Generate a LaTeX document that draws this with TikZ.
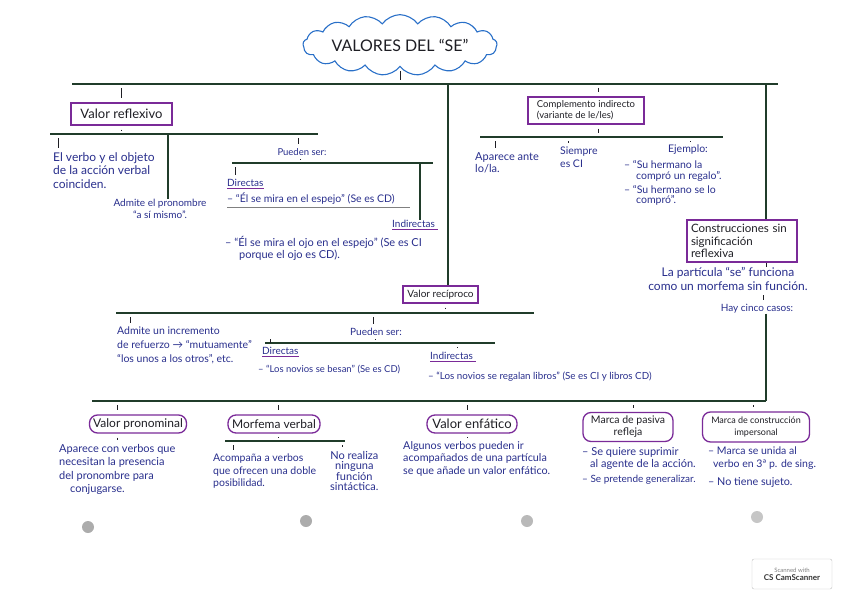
\documentclass[tikz,border=0pt]{standalone}
\usepackage{fontspec}
\setmainfont{Lato}
\usetikzlibrary{shapes.symbols}
\definecolor{tinta}{RGB}{40,46,140}
\definecolor{lapiz}{RGB}{30,30,36}
\definecolor{verde}{RGB}{32,60,42}
\definecolor{morado}{RGB}{122,42,152}
\definecolor{nube}{RGB}{42,112,200}
\newcommand{\tam}[2]{\fontsize{#1}{#2}\selectfont}
\begin{document}
\begin{tikzpicture}[x=1pt,y=-1pt,
	caja/.style={draw=morado, line width=1.2pt, text=lapiz, inner sep=2pt, align=left},
	ovalo/.style={draw=morado, line width=1.3pt, rounded corners=8pt, text=lapiz, inner sep=1.5pt, align=center},
	texto/.style={text=tinta, anchor=north west, align=left, inner sep=0pt},
	barra/.style={draw=verde, line width=1.3pt},
	linea/.style={draw=verde, line width=1.1pt},
	marca/.style={draw=lapiz, line width=0.9pt, shorten <=4pt, shorten >=4pt},
	subr/.style={draw=morado, line width=1pt}]
	\useasboundingbox (0,0) rectangle (848,599);
	%titulo
	\node[cloud, cloud puffs=17, cloud puff arc=110, aspect=4.5, draw=nube, line width=1.1pt,
		minimum width=184pt, minimum height=46pt, inner sep=0pt, text=lapiz,
		font=\tam{16}{18}] (titulo) at (400,45) {VALORES DEL “SE”};
	%barras
	\coordinate (b0l) at (72,84);   \coordinate (b0r) at (778,84);
	\coordinate (b1l) at (50,134);  \coordinate (b1r) at (318,134);
	\coordinate (b2l) at (232,163); \coordinate (b2r) at (433,163);
	\coordinate (b3l) at (480,137); \coordinate (b3r) at (723,137);
	\coordinate (b4l) at (116,313); \coordinate (b4r) at (534,313);
	\coordinate (b5l) at (265,343); \coordinate (b5r) at (495,343);
	\coordinate (b6l) at (92,401);  \coordinate (b6r) at (766,401);
	\coordinate (b7l) at (225,441); \coordinate (b7r) at (345,441);
	\foreach \b in {0,...,7} \draw[barra] (b\b l) -- (b\b r);
	%fin
	%cajas
	\node[caja, minimum width=101pt, minimum height=22pt, font=\tam{13}{14}] (refl) at (121.5,114) {Valor reflexivo};
	\node[caja, minimum width=116pt, minimum height=27pt, font=\tam{9.5}{11}] (ci) at (586,110.5) {Complemento indirecto\\(variante de le/les)};
	\node[caja, minimum width=110pt, minimum height=42pt, text width=102pt, font=\tam{11.5}{12.5}] (constr) at (742,241) {Construcciones sin\\significación\\reflexiva};
	\node[caja, minimum width=75pt, minimum height=17pt, inner sep=1pt, font=\tam{10}{11}] (reci) at (440.5,294.5) {Valor recíproco};
	%fin
	%valor reflexivo
	\node[texto, font=\tam{12}{13.5}] (verbo) at (53,152) {El verbo y el objeto\\de la acción verbal\\coinciden.};
	\node[texto, anchor=north, align=center, font=\tam{10}{12}] (admite) at (160,199) {Admite el pronombre\\“a sí mismo”.};
	\node[texto, anchor=center, font=\tam{9.5}{11}] (pueden1) at (302,152) {Pueden ser:};
	\node[texto, font=\tam{10}{11}] (dir1) at (227,179) {Directas};
	\node[texto, font=\tam{10.5}{12}] (ej1) at (227,193) {– “Él se mira en el espejo” (Se es CD)};
	\node[texto, font=\tam{10}{11}] (indir1) at (392,220) {Indirectas};
	\node[texto, font=\tam{11}{12}] (ej2) at (225,236) {– “Él se mira el ojo en el espejo” (Se es CI\\\hspace{14pt}porque el ojo es CD).};
	\draw[subr] (dir1.south west) ++(0,1.5) -- ++(37,0);
	\draw[subr] (indir1.south west) ++(0,1.5) -- ++(46,0);
	\draw[draw=gray, line width=0.6pt] (ej1.south west) ++(0,2.5) -- ++(183,0);
	%complemento indirecto
	\node[texto, font=\tam{11}{12}] (aparece) at (475,152) {Aparece ante\\lo/la.};
	\node[texto, font=\tam{10.5}{13}] (siempre) at (560,147) {Siempre\\es CI};
	\node[texto, anchor=center, font=\tam{10.5}{12}] (ejemplo) at (688,150) {Ejemplo:};
	\node[texto, font=\tam{10.5}{11}] (su1) at (624,160) {– “Su hermano la\\\hspace{12pt}compró un regalo”.};
	\node[texto, font=\tam{10.5}{10.5}] (su2) at (624,185) {– “Su hermano se lo\\\hspace{12pt}compró”.};
	%construcciones
	\node[texto, anchor=north, align=center, font=\tam{12}{14.5}] (particula) at (728,267) {La partícula “se” funciona\\como un morfema sin función.};
	\node[texto, anchor=center, font=\tam{10}{11}] (casos) at (757,309) {Hay cinco casos:};
	%valor reciproco
	\node[texto, font=\tam{10.5}{14}] (admite2) at (117,327) {Admite un incremento\\de refuerzo → “mutuamente”\\“los unos a los otros”, etc.};
	\node[texto, anchor=center, font=\tam{10}{11}] (pueden2) at (376,332) {Pueden ser:};
	\node[texto, font=\tam{10}{11}] (dir2) at (262,347) {Directas};
	\node[texto, font=\tam{9.5}{11}] (ej3) at (258,365) {– “Los novios se besan” (Se es CD)};
	\node[texto, font=\tam{10}{11}] (indir2) at (430,352) {Indirectas};
	\node[texto, font=\tam{9.8}{11}] (ej4) at (428,372) {– “Los novios se regalan libros” (Se es CI y libros CD)};
	\draw[subr] (dir2.south west) ++(0,1.5) -- ++(37,0);
	\draw[subr] (indir2.south west) ++(0,1.5) -- ++(46,0);
	%los cinco casos
	\node[ovalo, minimum width=97pt, minimum height=18pt, font=\tam{12}{13}] (pron) at (138,424) {Valor pronominal};
	\node[ovalo, minimum width=92pt, minimum height=18pt, font=\tam{12}{13}] (morf) at (274,424) {Morfema verbal};
	\node[ovalo, minimum width=90pt, minimum height=18pt, font=\tam{13}{14}] (enf) at (472,424) {Valor enfático};
	\node[ovalo, minimum width=90pt, minimum height=29pt, inner sep=1pt, font=\tam{10.5}{12}] (pasiva) at (628,427) {Marca de pasiva\\refleja};
	\node[ovalo, minimum width=107pt, minimum height=30pt, inner sep=1pt, font=\tam{9}{12}] (impers) at (756,427) {Marca de construcción\\impersonal};
	\node[texto, font=\tam{11}{13.5}] (prontxt) at (59,444) {Aparece con verbos que\\necesitan la presencia\\del pronombre para\\\hspace{11pt}conjugarse.};
	\node[texto, font=\tam{10.5}{12.5}] (morf1) at (213,454) {Acompaña a verbos\\que ofrecen una doble\\posibilidad.};
	\node[texto, align=center, font=\tam{11}{10.5}] (morf2) at (330,451) {No realiza\\ninguna\\función\\sintáctica.};
	\node[texto, font=\tam{10.8}{12.5}] (enftxt) at (403,441) {Algunos verbos pueden ir\\acompañados de una partícula\\se que añade un valor enfático.};
	\node[texto, font=\tam{11}{12}] (pas1) at (582,447) {– Se quiere suprimir\\\hspace{8pt}al agente de la acción.};
	\node[texto, font=\tam{10}{12}] (pas2) at (582,475) {– Se pretende generalizar.};
	\node[texto, font=\tam{10.5}{13}] (imp1) at (708,447) {– Marca se unida al\\\hspace{5pt}verbo en 3ª p. de sing.};
	\node[texto, font=\tam{10.8}{12}] (imp2) at (708,477) {– No tiene sujeto.};
	%fin
	%lineas largas
	\draw[linea] (448,84) coordinate (r1) -- (r1 |- reci.north);
	\draw[linea] (766,84) coordinate (r2) -- (r2 |- constr.north);
	\draw[linea] (168,134) coordinate (r3) -- (r3 |- admite.north);
	\draw[linea] (420,163) coordinate (r4) -- (r4 |- indir1.north);
	\draw[linea] (casos.south -| b6r) -- (b6r);
	%marcas
	\draw[marca] (titulo.south) -- (titulo.south |- b0l);
	\draw[marca] (121,84) coordinate (m1) -- (m1 |- refl.north);
	\draw[marca] (refl.south) -- (refl.south |- b1l);
	\draw[marca] (598,84) coordinate (m2) -- (m2 |- ci.north);
	\draw[marca] (ci.south -| m2) -- (m2 |- b3l);
	\draw[marca] (58,134) coordinate (m3) -- (m3 |- verbo.north);
	\draw[marca] (298,134) coordinate (m4) -- (m4 |- pueden1.north);
	\draw[marca] (pueden1.south -| 300,0) -- (300,163);
	\draw[marca] (235,163) coordinate (m5) -- (m5 |- dir1.north);
	\draw[marca] (495,137) coordinate (m6) -- (m6 |- aparece.north);
	\draw[marca] (568,137) coordinate (m7) -- (m7 |- siempre.north);
	\draw[marca] (690,137) coordinate (m8) -- (m8 |- ejemplo.north);
	\draw[marca] (constr.south -| b6r) -- (b6r |- particula.north);
	\draw[marca] (particula.south -| 763,0) -- (763,0 |- casos.north);
	\draw[marca] (reci.south -| 445,0) -- (445,313);
	\draw[marca] (130,313) coordinate (m9) -- (m9 |- admite2.north);
	\draw[marca] (373,313) coordinate (m10) -- (m10 |- pueden2.north);
	\draw[marca] (pueden2.south -| 375,0) -- (375,343);
	\draw[marca] (270,343) coordinate (m11) -- (m11 |- dir2.north);
	\draw[marca] (457,343) coordinate (m12) -- (m12 |- indir2.north);
	\draw[marca] (117,401) coordinate (m13) -- (m13 |- pron.north);
	\draw[marca] (pron.south -| m13) -- (m13 |- prontxt.north);
	\draw[marca] (278,401) coordinate (m14) -- (m14 |- morf.north);
	\draw[marca] (morf.south -| m14) -- (m14 |- b7l);
	\draw[marca] (233,441) coordinate (m15) -- (m15 |- morf1.north);
	\draw[marca] (342,441) coordinate (m16) -- (m16 |- morf2.north);
	\draw[marca] (467,401) coordinate (m17) -- (m17 |- enf.north);
	\draw[marca] (enf.south -| m17) -- (m17 |- enftxt.north);
	\draw[marca] (633,401) coordinate (m18) -- (m18 |- pasiva.north);
	\draw[marca] (753,401) coordinate (m19) -- (m19 |- impers.north);
	%fin
	%agujeros y sello
	\fill[gray!65] (88,527) circle (6pt);
	\fill[gray!65] (306,521) circle (6pt);
	\fill[gray!55] (527,521) circle (6pt);
	\fill[gray!45] (757,517) circle (6pt);
	\node[draw=gray!50, rounded corners=2pt, minimum width=80pt, minimum height=30pt, align=center,
		inner sep=1pt, font=\tam{6}{8}, text=gray] (sello) at (792,574)
		{Scanned with\\{\tam{8}{9}\bfseries\color{black!80}CS CamScanner}};
\end{tikzpicture}
\end{document}
